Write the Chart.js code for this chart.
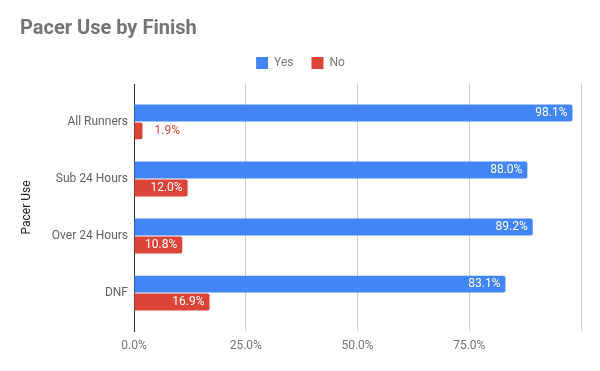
<!DOCTYPE html>
<html>
<head>
<meta charset="utf-8">
<script src="https://cdn.jsdelivr.net/npm/chart.js@4"></script>
<style>
  body { margin: 0; background: #fff; }
  #wrap { width: 600px; height: 371px; }
</style>
</head>
<body>
<div id="wrap"><canvas id="chart" width="600" height="371"></canvas></div>
<script>
// Chart data
const categories = ["All Runners", "Sub 24 Hours", "Over 24 Hours", "DNF"];
const yesValues = [98.1, 88.0, 89.2, 83.1];
const noValues = [1.9, 12.0, 10.8, 16.9];
const xTicks = [0, 25, 50, 75, 100];

const BLUE = "#4285F4";
const RED = "#DB4437";

Chart.defaults.font.family = "Roboto";
Chart.defaults.font.size = 12;

// Draws the percentage labels on the bars
const barLabels = {
    id: "barLabels",
    afterDatasetsDraw(chart) {
        const ctx = chart.ctx;
        ctx.save();
        ctx.font = "12px Roboto";
        ctx.textBaseline = "middle";
        chart.data.datasets.forEach((ds, i) => {
            chart.getDatasetMeta(i).data.forEach((bar, j) => {
                const text = ds.data[j].toFixed(1) + "%";
                const w = ctx.measureText(text).width;
                if (bar.x - bar.base > w + 10) {
                    ctx.fillStyle = "#ffffff";
                    ctx.textAlign = "right";
                    ctx.fillText(text, bar.x - 5, bar.y);
                } else {
                    ctx.fillStyle = ds.backgroundColor;
                    ctx.textAlign = "left";
                    ctx.fillText(text, bar.x + 12, bar.y);
                }
            });
        });
        ctx.restore();
    }
};

new Chart(document.getElementById("chart"), {
    type: "bar",
    data: {
        labels: categories,
        datasets: [
            { label: "Yes", data: yesValues, backgroundColor: BLUE, borderWidth: 0, borderRadius: 2,
              categoryPercentage: 0.63, barPercentage: 0.94 },
            { label: "No", data: noValues, backgroundColor: RED, borderWidth: 0, borderRadius: 2,
              categoryPercentage: 0.63, barPercentage: 0.94 }
        ]
    },
    options: {
        indexAxis: "y",
        responsive: false,
        animation: false,
        layout: { padding: { left: 20, right: 19, top: 0, bottom: 0 } },
        plugins: {
            title: {
                display: true,
                text: "Pacer Use by Finish",
                align: "start",
                color: "#757575",
                font: { size: 20, weight: "bold", lineHeight: 1 },
                padding: { top: 19, bottom: 0 }
            },
            legend: {
                display: true,
                labels: { boxWidth: 12, boxHeight: 12, padding: 18, color: "#757575", font: { size: 12 } }
            },
            // empty spacer between the legend and the plot
            subtitle: {
                display: true,
                text: "",
                weight: 500,
                font: { size: 5, lineHeight: 1 },
                padding: 0
            },
            tooltip: { enabled: false }
        },
        scales: {
            x: {
                min: 0,
                max: 100,
                afterBuildTicks: (s) => { s.ticks = xTicks.map(v => ({ value: v })); },
                afterFit: (s) => { s.height = 40; },
                ticks: {
                    color: "#757575",
                    padding: 8,
                    callback: (v) => (v === 100 ? "" : v.toFixed(1) + "%")
                },
                grid: { color: "#cccccc", drawTicks: false },
                border: { display: false }
            },
            y: {
                afterFit: (s) => { s.width = 114; },
                afterBuildTicks: (s) => { s._startValue -= 0.165; s._valueRange += 0.33; },
                ticks: { color: "#616161", padding: 6 },
                grid: { display: false, drawTicks: false },
                border: { display: true, color: "#333333", width: 1 },
                title: { display: true, text: "Pacer Use", color: "#222222", font: { size: 12 }, padding: { top: 0, bottom: 0 } }
            }
        }
    },
    plugins: [barLabels]
});
</script>
</body>
</html>
